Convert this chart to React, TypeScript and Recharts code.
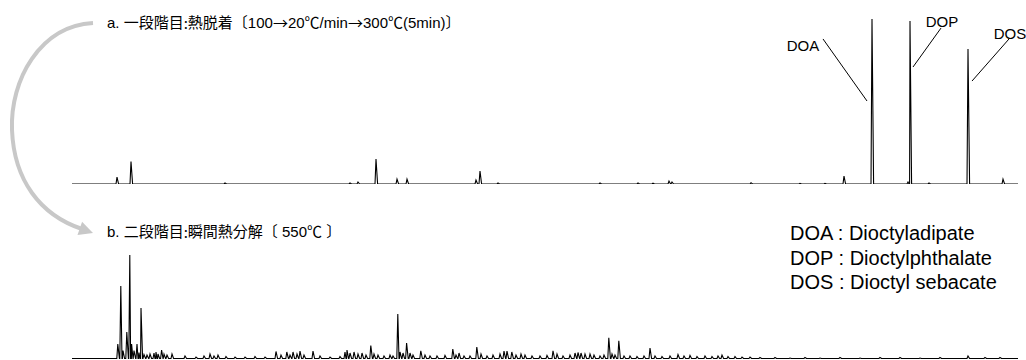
import React from "react"
import { LineChart, Line, XAxis, YAxis, ReferenceLine } from "recharts"

// retention time (min) and relative intensity (% of largest peak)
// a. first stage: thermal desorption
const stageATimes = [
  2.25, 2.95, 7.65, 13.9, 14.3, 15.2, 16.25, 16.75, 20.2, 20.4, 21.3, 26.4, 28.3,
  29.05, 29.85, 30.0, 33.95, 36.4, 37.65, 38.6, 40.0, 41.8, 41.9, 42.85, 44.8, 46.55,
]
const stageAHeights = [
  4.2, 13.6, 0.6, 0.6, 1.2, 15.2, 3.0, 3.0, 2.4, 7.9, 0.6, 0.6, 0.6,
  0.5, 1.8, 1.2, 0.8, 0.4, 0.4, 4.8, 100, 1.2, 98.8, 0.6, 81.8, 3.0,
]

// b. second stage: flash pyrolysis
const stageBTimes = [
  2.29, 2.44, 2.55, 2.74, 2.89, 2.98, 3.1, 3.25, 3.35, 3.45, 3.6, 3.75, 3.9, 4.1,
  4.2, 4.3, 4.48, 4.6, 4.75, 5.0, 5.65, 6.2, 6.6, 6.9, 7.1, 7.3, 7.7, 8.15, 8.65,
  9.15, 9.65, 10.2, 10.45, 10.74, 10.9, 11.05, 11.25, 11.4, 11.6, 12.05, 12.4,
  12.9, 13.4, 13.65, 13.75, 13.9, 14.1, 14.3, 14.5, 14.7, 14.94, 15.1, 15.3, 15.6,
  15.9, 16.05, 16.29, 16.4, 16.55, 16.73, 16.9, 17.05, 17.44, 17.65, 17.9, 18.25,
  18.65, 19.04, 19.2, 19.35, 19.6, 19.9, 20.24, 20.45, 20.75, 21.05, 21.4, 21.6,
  21.75, 21.99, 22.2, 22.45, 22.65, 23.0, 23.4, 23.75, 24.05, 24.25, 24.55, 24.9,
  25.15, 25.3, 25.45, 25.65, 25.9, 26.1, 26.4, 26.6, 26.84, 27.0, 27.15, 27.34,
  27.6, 27.9, 28.25, 28.6, 28.9, 29.15, 29.5, 29.9, 30.3, 30.6, 30.9, 31.25, 31.65,
  32.0, 32.3, 32.5, 32.8, 33.15, 33.5, 33.9, 34.4, 35.15, 35.9, 36.65, 37.4, 38.4,
  39.4, 40.4, 41.4, 42.4, 43.4, 44.8, 45.65, 46.4,
]
const stageBHeights = [
  14, 70, 7.7, 25.6, 100, 14, 7.7, 14, 5.8, 48.8, 3.9, 3.4, 4.3, 5.3,
  6.3, 4.3, 8.2, 4.3, 3.4, 4.3, 2.4, 1.4, 2.4, 4.3, 2.4, 3.4, 1.9, 1.4, 1.4,
  1.9, 1.4, 6.8, 3.4, 6.3, 3.4, 6.3, 4.3, 7.2, 3.4, 7.2, 2.4,
  1.4, 1.9, 6.3, 8.2, 5.3, 6.3, 4.3, 5.3, 3.4, 12.4, 4.3, 3.4, 2.4,
  3.4, 2.4, 43, 6.3, 5.3, 15, 5.3, 3.4, 7.5, 3.4, 2.4, 2.4,
  2.9, 9.2, 3.4, 5.3, 2.4, 2.4, 11.1, 4.3, 2.4, 3.4, 4.3, 7.2,
  7.2, 6.3, 3.4, 4.3, 3.4, 2.4, 2.4, 2.9, 7.5, 4.3, 2.4, 3.4,
  5.3, 5.8, 5.3, 4.3, 4.3, 3.4, 2.4, 3.4, 20, 4.3, 3.4, 17.2,
  2.4, 2.4, 1.9, 2.4, 10.1, 2.4, 1.9, 2.4, 3.9, 2.4, 2.9, 1.9, 2.4,
  1.9, 2.4, 3.4, 1.9, 1.9, 1.4, 1.4, 1.0, 1.0, 0.5, 1.0, 0.5, 1.0,
  0.5, 1.0, 1.0, 0.5, 1.0, 2.4, 1.0, 1.0,
]

const compoundNames = ["DOA : Dioctyladipate", "DOP : Dioctylphthalate", "DOS : Dioctyl sebacate"]

const RUN_END = 47.3
const FONT = "'Liberation Sans', Arial, 'Noto Sans CJK JP', sans-serif"
const CJK = "'Noto Sans CJK JP', sans-serif"

// each peak: foot, apex, foot
function buildTrace(times: number[], heights: number[]) {
  const pts = [{ t: 0, v: 0 }, { t: RUN_END, v: 0 }]
  times.forEach((t, i) => {
    pts.push({ t: t - 0.05, v: 0 }, { t, v: heights[i] }, { t: t + 0.08, v: 0 })
  })
  return pts.sort((a, b) => a.t - b.t)
}

const traceA = buildTrace(stageATimes, stageAHeights)
const traceB = buildTrace(stageBTimes, stageBHeights)

const Chromatogram = ({ data, height, top, children }: any) => (
  <LineChart
    width={1026}
    height={height}
    data={data}
    margin={{ top, right: 8, left: 72, bottom: 0 }}
  >
    <XAxis dataKey="t" type="number" domain={[0, RUN_END]} hide />
    <YAxis type="number" domain={[0, 100]} hide />
    <Line
      type="linear"
      dataKey="v"
      stroke="#000"
      strokeWidth={1.1}
      dot={false}
      isAnimationActive={false}
    />
    {children}
  </LineChart>
)

export default function App() {
  return (
    <div style={{ position: "relative", width: 1026, height: 360, background: "#fff", overflow: "hidden", fontFamily: FONT }}>
      <style>{`body{margin:0}`}</style>

      <div style={{ position: "absolute", left: 0, top: 0 }}>
        <Chromatogram data={traceA} height={184} top={19}>
          <ReferenceLine segment={[{ x: 37.55, y: 87.9 }, { x: 39.75, y: 50.3 }]} stroke="#000" strokeWidth={1} ifOverflow="visible" />
          <ReferenceLine segment={[{ x: 43.45, y: 94.5 }, { x: 42.05, y: 70.9 }]} stroke="#000" strokeWidth={1} ifOverflow="visible" />
          <ReferenceLine segment={[{ x: 46.85, y: 87.9 }, { x: 45.0, y: 62.4 }]} stroke="#000" strokeWidth={1} ifOverflow="visible" />
        </Chromatogram>
      </div>

      <div style={{ position: "absolute", left: 0, top: 200 }}>
        <Chromatogram data={traceB} height={158.5} top={55} />
      </div>

      <svg width={1026} height={360} style={{ position: "absolute", left: 0, top: 0, pointerEvents: "none" }}>
        <path d="M 93 23 C 40 26, 10 80, 12 130 S 40 215, 82 229" fill="none" stroke="#c8c8c8" strokeWidth={4} />
        <polygon points="93,233 77.5,235 82.1,221.8" fill="#c8c8c8" />

        <g fontFamily={FONT} fill="#000">
          <text x={107} y={22} fontSize={15} dominantBaseline="central">
            a. 一段階目<tspan fontFamily={CJK}>:</tspan>熱脱着〔100<tspan fontFamily={CJK}>→</tspan>20℃/min<tspan fontFamily={CJK}>→</tspan>300℃(5min)〕
          </text>
          <text x={107} y={231} fontSize={15} dominantBaseline="central">
            b. 二段階目<tspan fontFamily={CJK}>:</tspan>瞬間熱分解〔 550℃ 〕
          </text>

          <text x={803} y={45} fontSize={15} textAnchor="middle" dominantBaseline="central">DOA</text>
          <text x={942} y={21} fontSize={15} textAnchor="middle" dominantBaseline="central">DOP</text>
          <text x={1010} y={33} fontSize={15} textAnchor="middle" dominantBaseline="central">DOS</text>

          {compoundNames.map((name, i) => (
            <text key={name} x={790} y={233 + i * 24.5} fontSize={20} dominantBaseline="central">{name}</text>
          ))}
        </g>
      </svg>
    </div>
  )
}
